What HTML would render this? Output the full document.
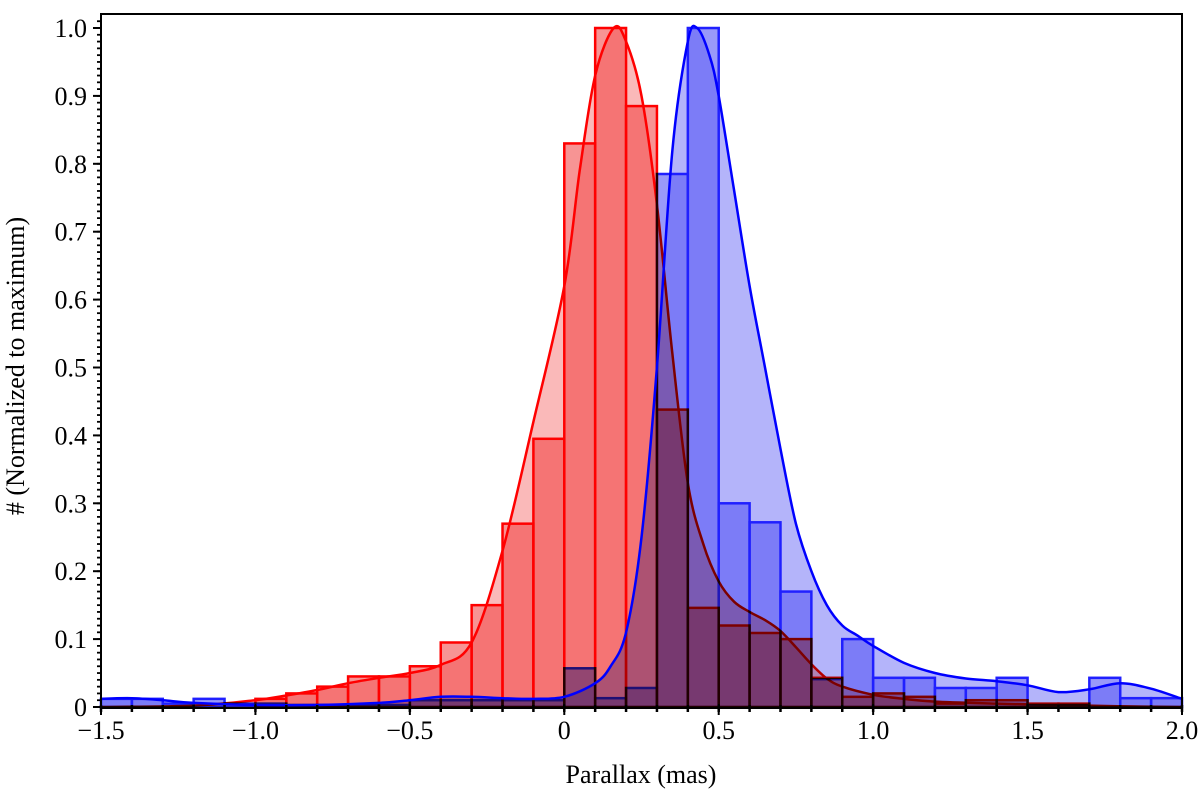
<!DOCTYPE html>
<html><head><meta charset="utf-8"><style>
body{margin:0;background:#fff}
svg text{font-family:"Liberation Serif",serif;fill:#000}
</style></head><body>
<svg id="c" width="1200" height="793" xmlns="http://www.w3.org/2000/svg">
<g id="plot"></g>
</svg>
<script>
const binStart=-1.5, binWidth=0.1;
const redBins=[0,0,0,0,0,0.012,0.02,0.03,0.045,0.045,0.06,0.095,0.15,0.27,0.395,0.83,1.0,0.885,0.438,0.146,0.12,0.109,0.10,0.043,0.015,0.02,0.015,0.005,0.01,0.01,0.005,0.005,0,0,0];
const blueBins=[0.012,0.012,0.005,0.012,0.005,0.005,0.003,0.003,0.003,0.003,0.01,0.01,0.01,0.01,0.01,0.057,0.013,0.028,0.785,1.0,0.30,0.272,0.17,0.041,0.10,0.043,0.043,0.028,0.028,0.043,0.003,0.003,0.043,0.013,0.013];
const redKdeX=[-1.5,-1.2,-1.0,-0.9,-0.8,-0.7,-0.6,-0.5,-0.4,-0.3,-0.2,-0.1,0.0,0.05,0.1,0.16,0.2,0.25,0.3,0.35,0.4,0.45,0.5,0.55,0.6,0.65,0.7,0.75,0.8,0.85,0.9,1.0,1.1,1.2,1.4,1.6,1.8,2.0];
const redKdeY=[0,0.002,0.01,0.017,0.025,0.035,0.043,0.05,0.062,0.095,0.23,0.42,0.62,0.79,0.93,1.0,0.98,0.9,0.74,0.52,0.33,0.24,0.185,0.155,0.14,0.128,0.112,0.088,0.063,0.042,0.03,0.018,0.012,0.008,0.005,0.003,0.001,0];
const blueKdeX=[-1.5,-1.4,-1.3,-1.2,-1.0,-0.8,-0.6,-0.5,-0.4,-0.3,-0.2,-0.1,0.0,0.1,0.15,0.2,0.25,0.3,0.35,0.4,0.43,0.47,0.5,0.55,0.6,0.65,0.7,0.75,0.8,0.85,0.9,0.95,1.0,1.1,1.2,1.3,1.4,1.5,1.6,1.7,1.8,1.9,2.0];
const blueKdeY=[0.012,0.013,0.01,0.006,0.003,0.003,0.006,0.01,0.015,0.015,0.013,0.012,0.015,0.035,0.06,0.11,0.25,0.5,0.82,0.98,1.0,0.96,0.9,0.76,0.62,0.5,0.38,0.27,0.2,0.15,0.12,0.105,0.09,0.065,0.05,0.042,0.038,0.032,0.022,0.026,0.035,0.027,0.012];
const xTicks=[-1.5,-1.0,-0.5,0,0.5,1.0,1.5,2.0];
const xTickLabels=["\u22121.5","\u22121.0","\u22120.5","0","0.5","1.0","1.5","2.0"];
const yTicks=[0,0.1,0.2,0.3,0.4,0.5,0.6,0.7,0.8,0.9,1.0];
const yTickLabels=["0","0.1","0.2","0.3","0.4","0.5","0.6","0.7","0.8","0.9","1.0"];

const L=101,R=1182,T=14,B=708,Y0=707,Y1=28;
const sx=v=>L+(v+1.5)/3.5*(R-L);
const sy=v=>Y0-v*(Y0-Y1);
const NS="http://www.w3.org/2000/svg";
const plot=document.getElementById('plot');
function mk(tag,attrs,parent){const e=document.createElementNS(NS,tag);for(const k in attrs)e.setAttribute(k,attrs[k]);(parent||plot).appendChild(e);return e;}
function smooth(xs,ys){const p=xs.map((x,i)=>[sx(x),sy(ys[i])]);let d='M'+p[0][0].toFixed(1)+','+p[0][1].toFixed(1);
 for(let i=0;i<p.length-1;i++){const p0=p[Math.max(0,i-1)],p1=p[i],p2=p[i+1],p3=p[Math.min(p.length-1,i+2)];
  const c1=[p1[0]+(p2[0]-p0[0])/6,p1[1]+(p2[1]-p0[1])/6],c2=[p2[0]-(p3[0]-p1[0])/6,p2[1]-(p3[1]-p1[1])/6];
  c1[1]=Math.min(c1[1],Y0);c2[1]=Math.min(c2[1],Y0);
  d+='C'+c1[0].toFixed(1)+','+c1[1].toFixed(1)+' '+c2[0].toFixed(1)+','+c2[1].toFixed(1)+' '+p2[0].toFixed(1)+','+p2[1].toFixed(1);}
 return d;}
function areaPath(xs,ys){return smooth(xs,ys)+'L'+sx(xs[xs.length-1])+','+sy(0)+'L'+sx(xs[0])+','+sy(0)+'Z';}

const gr=mk('g',{});


const rf=mk('path',{d:areaPath(redKdeX,redKdeY),fill:'#fab9b9'},gr);


redBins.forEach((v,i)=>{if(v<=0)return;const x0=binStart+i*binWidth;
 const r=mk('rect',{x:sx(x0),y:sy(v),width:sx(x0+binWidth)-sx(x0),height:sy(0)-sy(v),fill:'rgba(240,60,60,0.55)',stroke:'#f00','stroke-width':2.5},gr);
 
 });
const rl=mk('path',{d:smooth(redKdeX,redKdeY),fill:'none',stroke:'#f00','stroke-width':2.5},gr);



const gb=mk('g',{style:'mix-blend-mode:multiply'});


const bf=mk('path',{d:areaPath(blueKdeX,blueKdeY),fill:'#b4b4fa'},gb);


blueBins.forEach((v,i)=>{if(v<=0)return;const x0=binStart+i*binWidth;
 const r=mk('rect',{x:sx(x0),y:sy(v),width:sx(x0+binWidth)-sx(x0),height:sy(0)-sy(v),fill:'rgba(90,90,245,0.62)',stroke:'#2020ff','stroke-width':2.5},gb);
 
 });
const bl=mk('path',{d:smooth(blueKdeX,blueKdeY),fill:'none',stroke:'#00f','stroke-width':2.5});



const fr=mk('rect',{x:L,y:T,width:R-L,height:B-T,fill:'none',stroke:'#000','stroke-width':2});


for(let k=0;k<=35;k++){const v=-1.5+k*0.1;const x=sx(v);mk('line',{x1:x,x2:x,y1:B-3,y2:B+4,stroke:'#000','stroke-width':2.5});}
xTicks.forEach((v,i)=>{const x=sx(v);mk('line',{x1:x,x2:x,y1:B-4,y2:B+7,stroke:'#000','stroke-width':2});
 const t=mk('text',{x:x,y:739,'text-anchor':'middle','font-size':26});t.textContent=xTickLabels[i];
 
 });
for(let k=0;k<=101;k++){const y=sy(k*0.01);if(y<T)break;mk('line',{x1:L-4,x2:L+1,y1:y,y2:y,stroke:'#000','stroke-width':1.8});}
yTicks.forEach((v,i)=>{const y=sy(v);mk('line',{x1:L-8,x2:L,y1:y,y2:y,stroke:'#000','stroke-width':2});
 const t=mk('text',{x:87,y:y+9,'text-anchor':'end','font-size':26});t.textContent=yTickLabels[i];
 
 });
const xt=mk('text',{x:641,y:783,'text-anchor':'middle','font-size':26});xt.textContent='Parallax (mas)';


const yt=mk('text',{x:0,y:0,'text-anchor':'middle','font-size':26,transform:'translate(24,366) rotate(-90)'});yt.textContent='# (Normalized to maximum)';


</script>
</body></html>
